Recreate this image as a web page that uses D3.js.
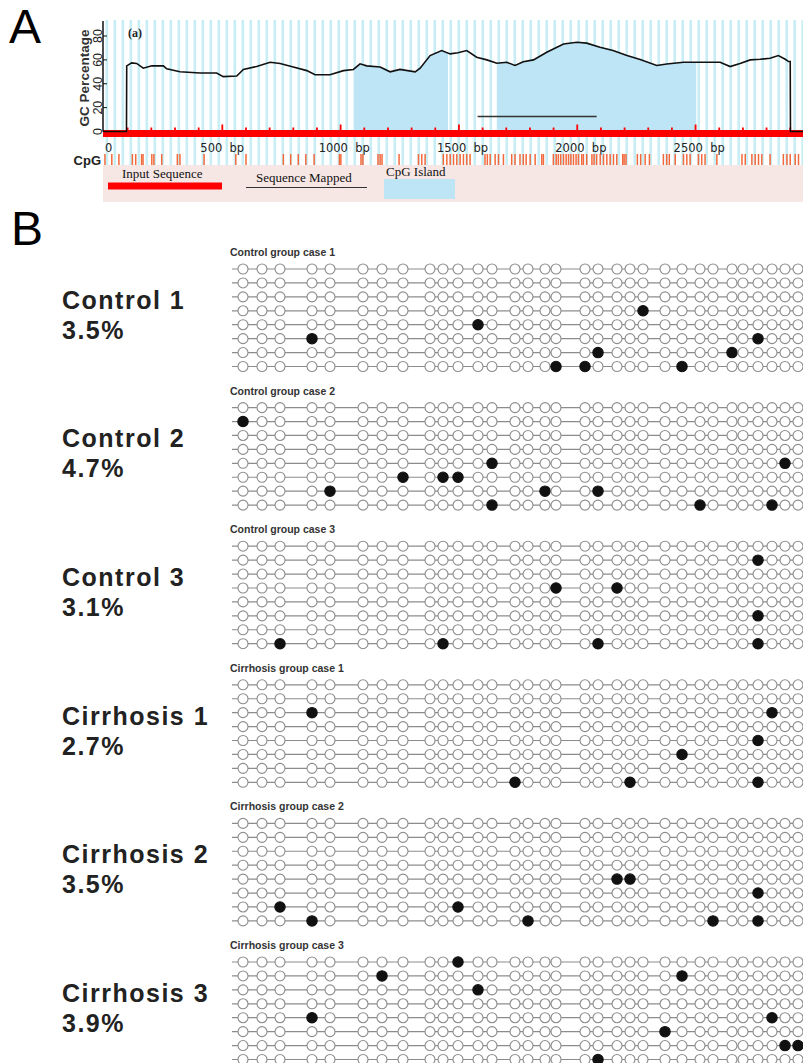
<!DOCTYPE html>
<html>
<head>
<meta charset="utf-8">
<script src="https://cdn.jsdelivr.net/npm/d3@7"></script>
<style>
  body { margin: 0; background: #fff; }
  svg { display: block; }
</style>
</head>
<body>
<svg id="fig" width="803" height="1063"></svg>
<script>
// ---- Panel A data: GC content profile of the input sequence ----
const gcBp = [0, 95, 96, 117, 138, 166, 202, 251, 265, 321, 406, 476, 504, 561, 589, 645, 702, 744, 800, 857,
  892, 955, 1012, 1054, 1082, 1110, 1167, 1209, 1251, 1315, 1336, 1378, 1427, 1463, 1496, 1533, 1575, 1618,
  1660, 1702, 1737, 1772, 1815, 1871, 1942, 1998, 2040, 2096, 2151, 2210, 2266, 2336, 2378, 2449, 2505, 2604,
  2646, 2688, 2731, 2773, 2815, 2850, 2879, 2893, 2900, 2901, 2954];
const gcPct = [0, 0, 55, 57.5, 57, 53, 55, 55, 52.5, 50, 49, 49, 46, 46.5, 52, 54.5, 58, 57, 54, 51,
  47.5, 47.5, 51, 52, 56.7, 55, 54, 50, 52, 50, 53, 63.6, 67.8, 65, 66, 67.8, 62.2, 60,
  57.2, 58, 55.3, 58.5, 60, 66.4, 73.3, 74.7, 74, 70.6, 67.8, 63.6, 60.3, 55.3, 56.5, 58, 58, 58,
  54.4, 57, 60, 60.5, 61.4, 63.6, 60.5, 58.6, 58.6, 0, 0];
const islands = [[1057, 1454], [1660, 2503]];
const mapped = [1579, 2082];
const cpgSites = [4, 33, 63, 120, 134, 159, 165, 202, 211, 244, 310, 321, 423, 557, 600, 758, 789, 821, 853, 888,
  995, 1001, 1086, 1094, 1158, 1167, 1175, 1247, 1329, 1343, 1357, 1434, 1449, 1463, 1477, 1491, 1505, 1519,
  1533, 1547, 1610, 1620, 1632, 1653, 1667, 1688, 1723, 1737, 1758, 1772, 1784, 1801, 1822, 1850, 1857, 1899,
  1911, 1920, 1930, 1942, 1953, 1963, 1973, 1984, 1995, 2005, 2019, 2026, 2040, 2062, 2071, 2082, 2097, 2111,
  2125, 2139, 2153, 2167, 2192, 2198, 2206, 2254, 2268, 2287, 2305, 2364, 2378, 2389, 2414, 2449, 2463, 2477,
  2512, 2526, 2540, 2590, 2696, 2710, 2738, 2752, 2766, 2780, 2815, 2871, 2886, 2900, 2921, 2935];
const yTicks = [0, 20, 40, 60, 80];
const xTicks = [0, 500, 1000, 1500, 2000, 2500];
const xTickLabels = ["0", "500  bp", "1000  bp", "1500  bp", "2000  bp", "2500  bp"];

// ---- Panel B data: bisulfite sequencing clones ----
const samples = ["Control 1", "Control 2", "Control 3", "Cirrhosis 1", "Cirrhosis 2", "Cirrhosis 3"];
const titles = ["Control group case 1", "Control group case 2", "Control group case 3",
  "Cirrhosis group case 1", "Cirrhosis group case 2", "Cirrhosis group case 3"];
const percents = ["3.5%", "4.7%", "3.1%", "2.7%", "3.5%", "3.9%"];
const clones = [0, 1, 2, 3, 4, 5, 6, 7];
// relative position (bp) of the 32 CpG sites in the amplicon
const ampliconCpG = [0, 19, 37, 69, 87, 120, 139, 160, 187, 200, 215, 235, 249, 272, 285, 302, 313, 342, 355, 374,
  387, 400, 422, 439, 457, 470, 489, 500, 515, 529, 542, 555];
// methylated sites as [clone, CpG index]
const methylated = [
  [[3, 21], [4, 11], [5, 3], [5, 28], [6, 18], [6, 26], [7, 16], [7, 17], [7, 23]],
  [[1, 0], [4, 12], [4, 30], [5, 7], [5, 9], [5, 10], [6, 4], [6, 15], [6, 18], [7, 12], [7, 24], [7, 29]],
  [[1, 28], [3, 16], [3, 19], [5, 28], [7, 2], [7, 9], [7, 18], [7, 28]],
  [[2, 3], [2, 29], [4, 28], [5, 23], [7, 13], [7, 20], [7, 28]],
  [[4, 19], [4, 20], [5, 28], [6, 2], [6, 10], [7, 3], [7, 14], [7, 25], [7, 28]],
  [[0, 10], [1, 6], [1, 23], [2, 11], [4, 3], [4, 29], [5, 22], [6, 30], [6, 31], [7, 18]]
];

const W = 803;
const svg = d3.select("#fig");
const sans = "Arial, 'Liberation Sans', sans-serif";
const serif = "'Times New Roman', 'Liberation Serif', serif";

// panel letters
svg.append("text").attr("x", 9).attr("y", 43).attr("font-family", sans).attr("font-size", 48).text("A");
svg.append("text").attr("x", 11).attr("y", 245).attr("font-family", sans).attr("font-size", 48).text("B");

// ---------------- Panel A ----------------
const xA = d3.scaleLinear().domain([0, 2954]).range([104, W]);
const yA = d3.scaleLinear().domain([0, 80]).range([131.5, 36]);

// striped background
svg.append("g")
  .selectAll("line")
  .data(d3.range(12, 2954, 33.8))
  .enter()
  .append("line")
  .attr("x1", d => xA(d)).attr("x2", d => xA(d))
  .attr("y1", 20).attr("y2", 165)
  .attr("stroke", "#c8eef5")
  .attr("stroke-width", 2.6);

// legend box
svg.append("rect")
  .attr("x", 103).attr("y", 165).attr("width", W - 103).attr("height", 37)
  .attr("fill", "#f6e7e5");

const gcData = gcBp.map((b, i) => ({ bp: b, gc: gcPct[i] }));

// CpG islands: area under the curve, clipped to island ranges
const defs = svg.append("defs");
const clip = defs.append("clipPath").attr("id", "islandClip");
clip.selectAll("rect")
  .data(islands)
  .enter()
  .append("rect")
  .attr("x", d => xA(d[0]))
  .attr("width", d => xA(d[1]) - xA(d[0]))
  .attr("y", 0).attr("height", yA(0));

const area = d3.area()
  .x(d => xA(d.bp))
  .y0(yA(0))
  .y1(d => yA(d.gc));

svg.append("path")
  .datum(gcData)
  .attr("d", area)
  .attr("fill", "#bde5f5")
  .attr("clip-path", "url(#islandClip)");

// sequence mapped line
svg.append("line")
  .attr("x1", xA(mapped[0])).attr("x2", xA(mapped[1]))
  .attr("y1", 116.5).attr("y2", 116.5)
  .attr("stroke", "#333").attr("stroke-width", 1.6);

// red input sequence bar with ticks
svg.append("rect")
  .attr("x", xA(0) - 1).attr("y", 130).attr("width", W - xA(0) + 1).attr("height", 7)
  .attr("fill", "#ff0000");

svg.append("g")
  .selectAll("line")
  .data(d3.range(100, 2954, 100))
  .enter()
  .append("line")
  .attr("x1", d => xA(d)).attr("x2", d => xA(d))
  .attr("y1", d => d % 500 === 0 ? 124.5 : 127.5)
  .attr("y2", 131)
  .attr("stroke", "#ff0000").attr("stroke-width", 1.8);

// GC line
const line = d3.line()
  .x(d => xA(d.bp))
  .y(d => yA(d.gc));

svg.append("path")
  .datum(gcData)
  .attr("d", line)
  .attr("fill", "none")
  .attr("stroke", "#111")
  .attr("stroke-width", 1.6);

// y axis
svg.append("line")
  .attr("x1", 103).attr("x2", 103).attr("y1", 21).attr("y2", yA(0))
  .attr("stroke", "#111").attr("stroke-width", 1.5);

svg.append("g")
  .selectAll("line")
  .data(yTicks)
  .enter()
  .append("line")
  .attr("x1", 103).attr("x2", 107)
  .attr("y1", d => yA(d)).attr("y2", d => yA(d))
  .attr("stroke", "#111").attr("stroke-width", 1);

svg.append("g")
  .selectAll("text")
  .data(yTicks)
  .enter()
  .append("text")
  .attr("transform", d => `translate(101.5,${yA(d)}) rotate(-90)`)
  .attr("text-anchor", "middle")
  .attr("font-family", sans)
  .attr("font-size", 12.5)
  .attr("fill", "#222")
  .text(d => d);

svg.append("text")
  .attr("transform", "translate(89,78) rotate(-90)")
  .attr("text-anchor", "middle")
  .attr("font-family", sans)
  .attr("font-size", 13.5)
  .attr("font-weight", "bold")
  .attr("fill", "#333")
  .text("GC Percentage");

svg.append("text")
  .attr("x", 128).attr("y", 37)
  .attr("font-family", serif).attr("font-size", 12).attr("font-weight", "bold")
  .attr("fill", "#222")
  .text("(a)");

// x tick labels
svg.append("g")
  .selectAll("text")
  .data(xTicks)
  .enter()
  .append("text")
  .attr("x", (d, i) => i === 0 ? xA(d) + 1 : xA(d) - 22)
  .attr("y", 152)
  .attr("font-family", "'DejaVu Sans', Verdana, sans-serif")
  .attr("font-size", 11.5)
  .attr("fill", "#222")
  .style("white-space", "pre")
  .text((d, i) => xTickLabels[i]);

// CpG sites track
svg.append("text")
  .attr("x", 101).attr("y", 165)
  .attr("text-anchor", "end")
  .attr("font-family", sans).attr("font-size", 13).attr("font-weight", "bold")
  .attr("fill", "#222")
  .text("CpG");

svg.append("g")
  .selectAll("line")
  .data(cpgSites)
  .enter()
  .append("line")
  .attr("x1", d => xA(d)).attr("x2", d => xA(d))
  .attr("y1", 154).attr("y2", 165)
  .attr("stroke", "#f4693c").attr("stroke-width", 1.5);

// legend
const legend = svg.append("g").attr("font-family", serif).attr("font-size", 13).attr("fill", "#111");
legend.append("text").attr("x", 122).attr("y", 178).text("Input Sequence");
legend.append("rect").attr("x", 108).attr("y", 182.5).attr("width", 114).attr("height", 7).attr("fill", "#ff0000");
legend.append("text").attr("x", 256).attr("y", 182).text("Sequence Mapped");
legend.append("line").attr("x1", 246).attr("x2", 367).attr("y1", 187.5).attr("y2", 187.5)
  .attr("stroke", "#333").attr("stroke-width", 1.2);
legend.append("text").attr("x", 386).attr("y", 176).text("CpG Island");
legend.append("rect").attr("x", 384).attr("y", 179).attr("width", 71).attr("height", 20).attr("fill", "#bde5f5");

// ---------------- Panel B ----------------
const xB = d3.scaleLinear().domain([0, 555]).range([243, 798]);
const yBlock = d3.scalePoint().domain(samples).range([269, 962]);
const yRow = d3.scaleLinear().domain([0, 7]).range([0, 97.5]);

samples.forEach((name, s) => {
  const g = svg.append("g").attr("transform", `translate(0,${yBlock(name)})`);
  const meth = new Set(methylated[s].map(d => d[0] + "-" + d[1]));

  g.append("text")
    .attr("x", 230).attr("y", -13)
    .attr("font-family", sans).attr("font-size", 10.5).attr("font-weight", "bold")
    .attr("fill", "#333")
    .text(titles[s]);

  g.append("text")
    .attr("x", 62).attr("y", yRow(3.5) - 9)
    .attr("font-family", sans).attr("font-size", 25).attr("font-weight", "bold")
    .attr("letter-spacing", 1.5)
    .attr("fill", "#222")
    .text(name);

  g.append("text")
    .attr("x", 62).attr("y", yRow(3.5) + 21)
    .attr("font-family", sans).attr("font-size", 25).attr("font-weight", "bold")
    .attr("letter-spacing", 1.5)
    .attr("fill", "#222")
    .text(percents[s]);

  const rows = g.selectAll("g.clone")
    .data(clones)
    .enter()
    .append("g")
    .attr("class", "clone")
    .attr("transform", c => `translate(0,${yRow(c)})`);

  rows.append("line")
    .attr("x1", xB(0) - 11).attr("x2", W)
    .attr("stroke", "#8c8c8c").attr("stroke-width", 1.2);

  rows.each(function (c) {
    d3.select(this).selectAll("circle")
      .data(ampliconCpG.map((p, j) => ({ p, m: meth.has(c + "-" + j) })))
      .enter()
      .append("circle")
      .attr("cx", d => xB(d.p))
      .attr("cy", 0)
      .attr("r", d => d.m ? 5.2 : 5)
      .attr("fill", d => d.m ? "#111" : "#fff")
      .attr("stroke", d => d.m ? "#111" : "#8c8c8c")
      .attr("stroke-width", 1.1);
  });
});
</script>
</body>
</html>
